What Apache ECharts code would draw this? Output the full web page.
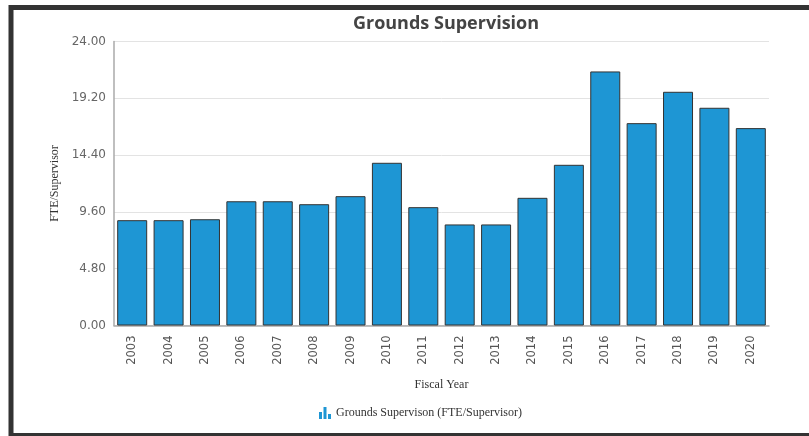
<!DOCTYPE html>
<html>
<head>
<meta charset="utf-8">
<script src="https://cdn.jsdelivr.net/npm/echarts@6/dist/echarts.min.js"></script>
<style>
html,body{margin:0;padding:0;background:#fff;}
#chart{width:809px;height:436px;}
</style>
</head>
<body>
<div id="chart"></div>
<script>
const categories = ['2003','2004','2005','2006','2007','2008','2009','2010','2011','2012','2013','2014','2015','2016','2017','2018','2019','2020'];
const values = [8.9, 8.9, 8.98, 10.5, 10.5, 10.25, 10.93, 13.75, 10.0, 8.54, 8.54, 10.79, 13.58, 21.47, 17.1, 19.75, 18.4, 16.68];
const seriesName = 'Grounds Supervison (FTE/Supervisor)';
const titleText = 'Grounds Supervision';
const yAxisName = 'FTE/Supervisor';
const xAxisName = 'Fiscal Year';

const chart = echarts.init(document.getElementById('chart'), null, {renderer:'canvas'});
chart.setOption({
  animation:false,
  graphic:[{
    type:'rect', silent:true, z:100,
    shape:{x:11, y:7.5, width:830, height:428},
    style:{fill:'none', stroke:'#333', lineWidth:5}
  }],
  title:{
    text:titleText, left:441, textAlign:'center', top:10,
    textStyle:{fontFamily:'Open Sans', fontWeight:'bold', fontSize:18, color:'#444'}
  },
  legend:{
    left:314, top:402, itemWidth:12, itemHeight:12, itemGap:6,
    icon:'path://M0,5h3v7h-3z M4.5,0h3v12h-3z M9,7h3v5h-3z',
    itemStyle:{borderWidth:0, color:'#1e96d4'},
    textStyle:{fontFamily:'Liberation Serif', fontSize:12, color:'#333'},
    data:[seriesName]
  },
  grid:{left:114, right:40, top:41.5, bottom:110.5, containLabel:false},
  xAxis:{
    type:'category', data:categories,
    name:xAxisName, nameLocation:'middle', nameGap:53,
    nameTextStyle:{fontFamily:'Liberation Serif', fontSize:12, color:'#333'},
    axisLine:{lineStyle:{color:'#aaa', width:1.5}},
    axisTick:{show:false},
    axisLabel:{rotate:90, fontFamily:'DejaVu Sans', fontSize:11.5, color:'#555', margin:10}
  },
  yAxis:{
    type:'value', min:0, max:24, interval:4.8,
    name:yAxisName, nameLocation:'middle', nameGap:47,
    nameTextStyle:{fontFamily:'Liberation Serif', fontSize:12, color:'#333'},
    axisLine:{show:true, lineStyle:{color:'#aaa', width:1.5}},
    axisTick:{show:false},
    splitLine:{lineStyle:{color:'#e3e3e3', width:1}},
    axisLabel:{formatter:v=>v.toFixed(2), fontFamily:'DejaVu Sans', fontSize:12, color:'#666', margin:8}
  },
  series:[{
    name:seriesName, type:'bar', data:values, barWidth:30,
    itemStyle:{color:'#1e96d4', borderColor:'#333', borderWidth:1}
  }]
});
</script>
</body>
</html>
